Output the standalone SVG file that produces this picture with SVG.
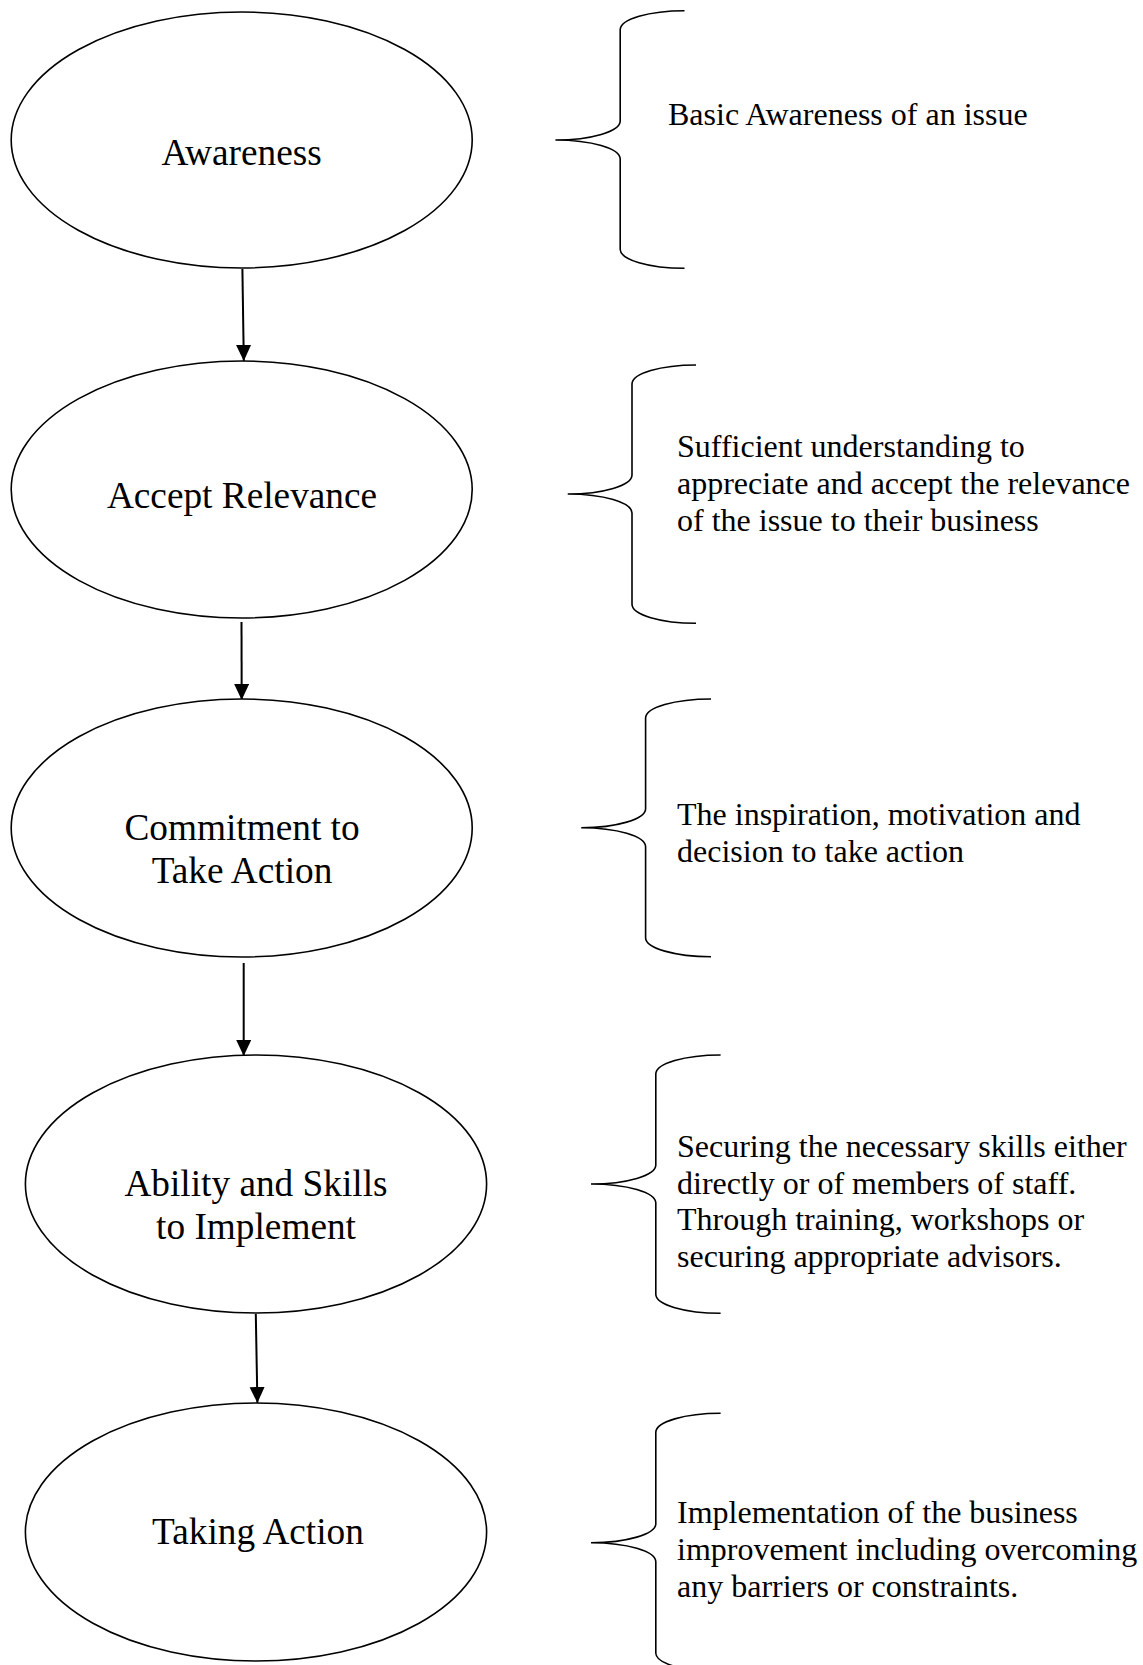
<svg xmlns="http://www.w3.org/2000/svg" width="1143" height="1665" viewBox="0 0 1143 1665">
<style>
.node{fill:#fff;stroke:#000;stroke-width:1.6}
.lbl{font-family:"Liberation Serif","Times New Roman",serif;font-size:37.3px;fill:#000;text-anchor:middle}
.desc{font-family:"Liberation Serif","Times New Roman",serif;font-size:32px;fill:#000}
.brace{fill:none;stroke:#000;stroke-width:1.6}
.conn{fill:none;stroke:#000;stroke-width:2}
</style>
<defs>
<marker id="ah" markerUnits="userSpaceOnUse" markerWidth="17" markerHeight="16" refX="16" refY="7.5" orient="auto">
<path d="M0,0 L16,7.5 L0,15 z" fill="#000"/>
</marker>
</defs>
<rect width="1143" height="1665" fill="#fff"/>
<g id="connectors">
<line class="conn" x1="242.4" y1="269" x2="243.8" y2="361" marker-end="url(#ah)"/>
<line class="conn" x1="241.5" y1="622" x2="241.7" y2="700" marker-end="url(#ah)"/>
<line class="conn" x1="243.7" y1="963" x2="243.7" y2="1056" marker-end="url(#ah)"/>
<line class="conn" x1="255.8" y1="1314" x2="257.4" y2="1403" marker-end="url(#ah)"/>
</g>
<g id="n1">
<ellipse class="node" cx="241.7" cy="140" rx="230.5" ry="128"/>
<text class="lbl" x="241.7" y="165">Awareness</text>
</g>
<g id="n2">
<ellipse class="node" cx="241.7" cy="489.5" rx="230.5" ry="128.5"/>
<text class="lbl" x="242" y="508">Accept Relevance</text>
</g>
<g id="n3">
<ellipse class="node" cx="241.7" cy="828" rx="230.5" ry="129"/>
<text class="lbl" x="242" y="840">Commitment to</text>
<text class="lbl" x="242" y="883">Take Action</text>
</g>
<g id="n4">
<ellipse class="node" cx="256" cy="1184" rx="230.6" ry="129"/>
<text class="lbl" x="256" y="1196">Ability and Skills</text>
<text class="lbl" x="256" y="1239">to Implement</text>
</g>
<g id="n5">
<ellipse class="node" cx="256" cy="1532" rx="230.6" ry="129"/>
<text class="lbl" x="258" y="1544">Taking Action</text>
</g>
<g id="d1">
<path class="brace" d="M684.5,10.7 A64.3,19 0 0 0 620.2,29.7 L620.2,121 A64.8,19 0 0 1 555.4,140 A64.8,19 0 0 1 620.2,159 L620.2,249.3 A64.3,19 0 0 0 684.5,268.3"/>
<text class="desc" x="668" y="125">Basic Awareness of an issue</text>
</g>
<g id="d2">
<path class="brace" d="M696,365 A64,19 0 0 0 632,384 L632,475 A64.3,19 0 0 1 567.7,494 A64.3,19 0 0 1 632,513 L632,604.3 A64,19 0 0 0 696,623.3"/>
<text class="desc" x="677" y="457">Sufficient understanding to</text>
<text class="desc" x="677" y="494">appreciate and accept the relevance</text>
<text class="desc" x="677" y="531">of the issue to their business</text>
</g>
<g id="d3">
<path class="brace" d="M711,699 A65.4,19 0 0 0 645.6,718 L645.6,808.7 A64.4,19 0 0 1 581.2,827.7 A64.4,19 0 0 1 645.6,846.7 L645.6,937.7 A65.4,19 0 0 0 711,956.7"/>
<text class="desc" x="677" y="825">The inspiration, motivation and</text>
<text class="desc" x="677" y="862">decision to take action</text>
</g>
<g id="d4">
<path class="brace" d="M720.6,1055 A64.8,19 0 0 0 655.8,1074 L655.8,1165 A64.8,19 0 0 1 591,1184 A64.8,19 0 0 1 655.8,1203 L655.8,1294.3 A64.8,19 0 0 0 720.6,1313.3"/>
<text class="desc" x="677" y="1157">Securing the necessary skills either</text>
<text class="desc" x="677" y="1194">directly or of members of staff.</text>
<text class="desc" x="677" y="1230">Through training, workshops or</text>
<text class="desc" x="677" y="1267">securing appropriate advisors.</text>
</g>
<g id="d5">
<path class="brace" d="M720.6,1413.3 A64.8,19 0 0 0 655.8,1432.3 L655.8,1523.7 A64.8,19 0 0 1 591,1542.7 A64.8,19 0 0 1 655.8,1561.7 L655.8,1653 A64.8,19 0 0 0 720.6,1672"/>
<text class="desc" x="677" y="1523">Implementation of the business</text>
<text class="desc" x="677" y="1560">improvement including overcoming</text>
<text class="desc" x="677" y="1597">any barriers or constraints.</text>
</g>
</svg>
